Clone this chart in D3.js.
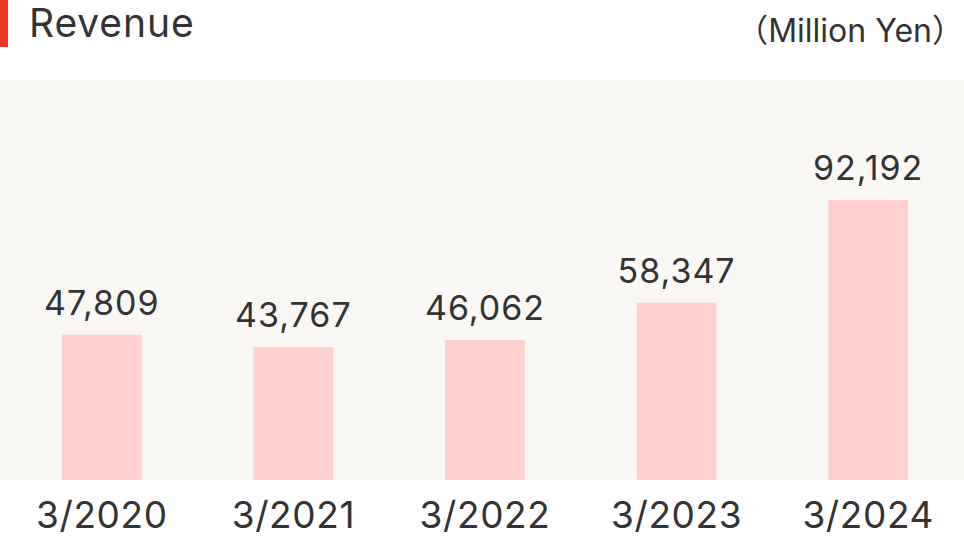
<!DOCTYPE html>
<html>
<head>
<meta charset="utf-8">
<script src="https://cdn.jsdelivr.net/npm/d3@7"></script>
<style>
  html, body { margin: 0; padding: 0; background: #fff; }
  svg { display: block; }
  text { font-family: Inter, "Noto Sans", "Noto Sans CJK JP", sans-serif; fill: #333; }
</style>
</head>
<body>
<div id="chart"></div>
<script>
// Data
const years = ['3/2020', '3/2021', '3/2022', '3/2023', '3/2024'];
const revenue = [47809, 43767, 46062, 58347, 92192];
const title = 'Revenue';
const unitLabel = '（Million Yen）';

const width = 964, height = 536;
const plotTop = 80, plotBottom = 480;

const svg = d3.select('#chart').append('svg')
  .attr('width', width)
  .attr('height', height);

// Title with red marker
svg.append('rect')
  .attr('x', 0).attr('y', 0)
  .attr('width', 8).attr('height', 47)
  .attr('fill', '#e8372b');

svg.append('text')
  .attr('x', 29).attr('y', 37)
  .attr('font-size', 39)
  .attr('letter-spacing', 0.9)
  .text(title);

svg.append('text')
  .attr('x', width).attr('y', 42)
  .attr('text-anchor', 'end')
  .attr('font-size', 32)
  .text(unitLabel);

// Plot background
svg.append('rect')
  .attr('x', 0).attr('y', plotTop)
  .attr('width', width).attr('height', plotBottom - plotTop)
  .attr('fill', '#f9f8f4');

// Scales
const x = d3.scaleBand()
  .domain(years)
  .range([6, 964])
  .paddingInner(0.5833)
  .paddingOuter(0.2917);

const y = d3.scaleLinear()
  .domain([0, d3.max(revenue)])
  .range([plotBottom, 200]);

const data = years.map((yr, i) => ({ year: yr, value: revenue[i] }));

// Bars
svg.append('g').selectAll('rect')
  .data(data)
  .enter()
  .append('rect')
  .attr('x', d => x(d.year))
  .attr('y', d => y(d.value))
  .attr('width', x.bandwidth())
  .attr('height', d => y(0) - y(d.value))
  .attr('fill', '#ffd0cc');

// Value labels
const fmt = d3.format(',');
svg.append('g').selectAll('text')
  .data(data)
  .enter()
  .append('text')
  .attr('x', d => x(d.year) + x.bandwidth() / 2)
  .attr('y', d => y(d.value) - 20)
  .attr('text-anchor', 'middle')
  .attr('font-size', 34)
  .attr('letter-spacing', 1)
  .text(d => fmt(d.value));

// Category labels
svg.append('g').selectAll('text')
  .data(years)
  .enter()
  .append('text')
  .attr('x', d => x(d) + x.bandwidth() / 2)
  .attr('y', 528)
  .attr('text-anchor', 'middle')
  .attr('font-size', 37)
  .attr('letter-spacing', 0.6)
  .text(d => d);
</script>
</body>
</html>
